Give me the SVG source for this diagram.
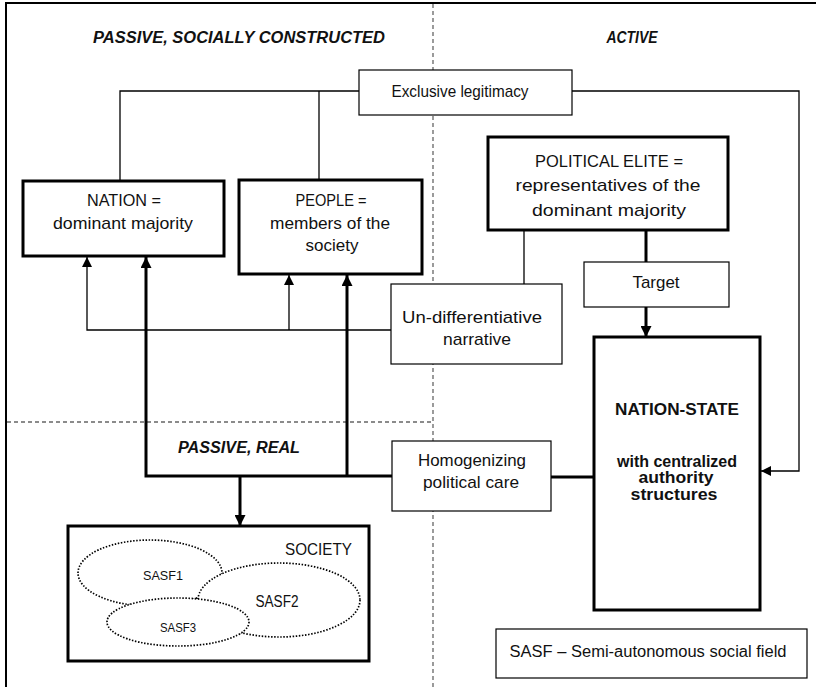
<svg xmlns="http://www.w3.org/2000/svg" width="816" height="687" viewBox="0 0 816 687">
  <style>
    text { font-family: "Liberation Sans", Arial, sans-serif; fill: #111; }
    .lbl { font-size: 17px; text-anchor: middle; }
    .zone { font-size: 16px; font-weight: bold; font-style: italic; text-anchor: middle; }
    .bold { font-weight: bold; text-anchor: middle; }
    .thin { fill: none; stroke: #000; stroke-width: 1.3; }
    .thick { fill: none; stroke: #000; stroke-width: 3; }
    .box { fill: #fff; stroke: #000; stroke-width: 1.2; }
    .bbox { fill: #fff; stroke: #000; stroke-width: 3; }
    .divider { fill: none; stroke: #666; stroke-width: 1.3; stroke-dasharray: 4 3; }
    .field { fill: #fff; stroke: #000; stroke-width: 1.7; stroke-dasharray: 1.5 1.6; }
  </style>
  <defs>
    <marker id="arr" viewBox="0 0 10 10" refX="10" refY="5" markerWidth="10" markerHeight="10" markerUnits="userSpaceOnUse" orient="auto">
      <path d="M0,0 L10,5 L0,10 z" fill="#000"/>
    </marker>
    <marker id="arrB" viewBox="0 0 10 10" refX="10" refY="5" markerWidth="11" markerHeight="11" markerUnits="userSpaceOnUse" orient="auto">
      <path d="M0,0 L10,5 L0,10 z" fill="#000"/>
    </marker>
  </defs>

  <rect width="816" height="687" fill="#fff"/>
  <!-- outer frame (runs past the right and bottom edges) -->
  <rect x="6" y="3" width="830" height="700" fill="none" stroke="#000" stroke-width="2"/>

  <!-- zone dividers -->
  <g id="dividers">
    <line class="divider" x1="433" y1="4" x2="433" y2="687"/>
    <line class="divider" x1="7" y1="422" x2="433" y2="422"/>
  </g>

  <!-- zone headings -->
  <g id="zones">
    <text class="zone" x="239" y="43" textLength="292" lengthAdjust="spacingAndGlyphs">PASSIVE, SOCIALLY CONSTRUCTED</text>
    <text class="zone" x="632" y="43" textLength="51" lengthAdjust="spacingAndGlyphs">ACTIVE</text>
    <text class="zone" x="239" y="453" textLength="122" lengthAdjust="spacingAndGlyphs">PASSIVE, REAL</text>
  </g>

  <!-- connectors -->
  <g id="connectors">
    <!-- exclusive legitimacy -->
    <polyline class="thin" points="120,180 120,91 359,91"/>
    <line class="thin" x1="319" y1="91" x2="319" y2="180"/>
    <polyline class="thin" points="572,91 799,91 799,471 761,471" marker-end="url(#arr)"/>
    <!-- political elite -->
    <line class="thin" x1="524" y1="230" x2="524" y2="284"/>
    <line class="thick" x1="646" y1="230" x2="646" y2="262"/>
    <line class="thick" x1="646" y1="307" x2="646" y2="337" marker-end="url(#arrB)"/>
    <!-- un-differentiative narrative -->
    <polyline class="thin" points="391,330 87,330 87,257" marker-end="url(#arr)"/>
    <line class="thin" x1="289" y1="330" x2="289" y2="275" marker-end="url(#arr)"/>
    <!-- homogenizing political care -->
    <polyline class="thick" points="392,476 146,476 146,257" marker-end="url(#arrB)"/>
    <line class="thick" x1="347" y1="476" x2="347" y2="275" marker-end="url(#arrB)"/>
    <line class="thick" x1="240" y1="476" x2="240" y2="526" marker-end="url(#arrB)"/>
    <line class="thick" x1="551" y1="477" x2="594" y2="477"/>
  </g>

  <g id="exclusive-legitimacy">
    <rect class="box" x="359" y="70" width="213" height="45"/>
    <text class="lbl" x="460" y="97" textLength="137" lengthAdjust="spacingAndGlyphs">Exclusive legitimacy</text>
  </g>

  <g id="nation">
    <rect class="bbox" x="23" y="181" width="201" height="75"/>
    <text class="lbl" x="124" y="206" textLength="74" lengthAdjust="spacingAndGlyphs">NATION =</text>
    <text class="lbl" x="123" y="229" textLength="140" lengthAdjust="spacingAndGlyphs">dominant majority</text>
  </g>

  <g id="people">
    <rect class="bbox" x="239" y="180" width="183" height="94"/>
    <text class="lbl" x="331" y="206" textLength="71" lengthAdjust="spacingAndGlyphs">PEOPLE =</text>
    <text class="lbl" x="330" y="229" textLength="120" lengthAdjust="spacingAndGlyphs">members of the</text>
    <text class="lbl" x="332" y="251">society</text>
  </g>

  <g id="political-elite">
    <rect class="bbox" x="488" y="137" width="240" height="93"/>
    <text class="lbl" x="609" y="167" textLength="148" lengthAdjust="spacingAndGlyphs">POLITICAL ELITE =</text>
    <text class="lbl" x="608" y="191" textLength="185" lengthAdjust="spacingAndGlyphs">representatives of the</text>
    <text class="lbl" x="609" y="216" textLength="154" lengthAdjust="spacingAndGlyphs">dominant majority</text>
  </g>

  <g id="target">
    <rect class="box" x="584" y="262" width="145" height="45"/>
    <text class="lbl" x="656" y="288" textLength="47" lengthAdjust="spacingAndGlyphs">Target</text>
  </g>

  <g id="undifferentiative-narrative">
    <rect class="box" x="391" y="284" width="171" height="80"/>
    <text class="lbl" x="472" y="323" textLength="140" lengthAdjust="spacingAndGlyphs">Un-differentiative</text>
    <text class="lbl" x="477" y="345" textLength="68" lengthAdjust="spacingAndGlyphs">narrative</text>
  </g>

  <g id="nation-state">
    <rect class="bbox" x="594" y="337" width="166" height="273"/>
    <text class="bold" x="677" y="415" font-size="17" textLength="124" lengthAdjust="spacingAndGlyphs">NATION-STATE</text>
    <text class="bold" x="677" y="467" font-size="16" textLength="120" lengthAdjust="spacingAndGlyphs">with centralized</text>
    <text class="bold" x="676" y="483" font-size="16" textLength="75" lengthAdjust="spacingAndGlyphs">authority</text>
    <text class="bold" x="674" y="500" font-size="16" textLength="87" lengthAdjust="spacingAndGlyphs">structures</text>
  </g>

  <g id="homogenizing-care">
    <rect class="box" x="392" y="441" width="159" height="70"/>
    <text class="lbl" x="472" y="466" textLength="108" lengthAdjust="spacingAndGlyphs">Homogenizing</text>
    <text class="lbl" x="471" y="488" textLength="96" lengthAdjust="spacingAndGlyphs">political care</text>
  </g>

  <g id="society">
    <rect class="bbox" x="68" y="526" width="301" height="135"/>
    <text x="352" y="555" font-size="17" text-anchor="end" textLength="67" lengthAdjust="spacingAndGlyphs">SOCIETY</text>
    <ellipse class="field" cx="150" cy="573" rx="72" ry="33"/>
    <ellipse class="field" cx="279" cy="600" rx="81" ry="37"/>
    <ellipse class="field" cx="178" cy="622" rx="71" ry="24"/>
    <text x="163" y="580" font-size="13" text-anchor="middle" textLength="40" lengthAdjust="spacingAndGlyphs">SASF1</text>
    <text x="277" y="607" font-size="16" text-anchor="middle" textLength="43" lengthAdjust="spacingAndGlyphs">SASF2</text>
    <text x="178" y="632" font-size="12" text-anchor="middle" textLength="36" lengthAdjust="spacingAndGlyphs">SASF3</text>
  </g>

  <g id="legend">
    <rect class="box" x="496" y="629" width="311" height="49"/>
    <text x="648" y="657" font-size="16" text-anchor="middle" textLength="277" lengthAdjust="spacingAndGlyphs">SASF – Semi-autonomous social field</text>
  </g>
</svg>
